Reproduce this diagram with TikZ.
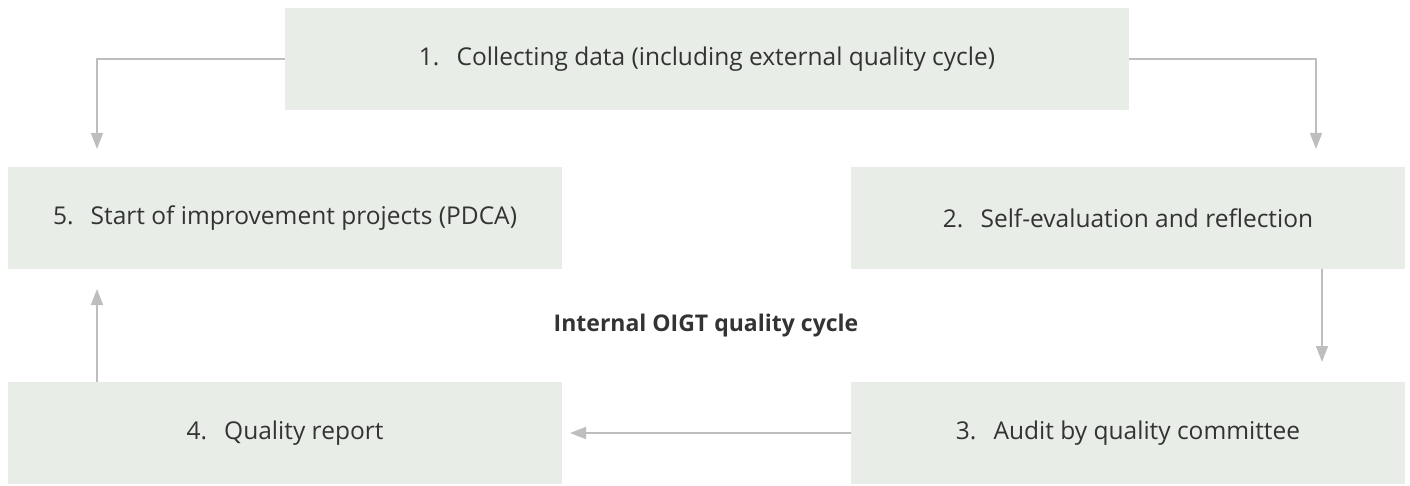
\documentclass[tikz,border=0pt]{standalone}
\usepackage{fontspec}
\setmainfont{Open Sans}
\usetikzlibrary{arrows.meta}
\definecolor{boxfill}{HTML}{E8EDE8}
\definecolor{linegray}{HTML}{BEBEBE}
\definecolor{txt}{HTML}{333333}
\tikzset{
  stepbox/.style={fill=boxfill, draw=none, minimum height=102pt, inner sep=0pt,
    text=txt, font=\fontsize{24.5}{29}\selectfont},
  conn/.style={draw=linegray, line width=1.5pt, -{Triangle[width=12pt,length=16pt]}},
}
\newcommand{\numsp}{\hspace{0.7em}}
\begin{document}
\begin{tikzpicture}[x=1pt,y=-1pt]
\useasboundingbox (0,0) rectangle (1410,486);
\node[stepbox, minimum width=844pt] (b1) at (707,59) {1.\numsp Collecting data (including external quality cycle)};
\node[stepbox, minimum width=554pt] (b5) at (285,218) {5.\numsp Start of improvement projects (PDCA)};
\node[stepbox, minimum width=554pt] (b2) at (1128,218) {2.\numsp Self-evaluation and reflection};
\node[stepbox, minimum width=554pt] (b3) at (1128,433) {3.\numsp Audit by quality committee};
\node[stepbox, minimum width=554pt] (b4) at (285,433) {4.\numsp Quality report};
\node[text=txt, font=\fontsize{23}{27}\selectfont\bfseries] (lbl) at (706,326) {Internal OIGT quality cycle};
\coordinate (t1) at (97,149);
\coordinate (t2) at (1316,149);
\coordinate (t3) at (1322,362);
\coordinate (t4) at (570,433);
\coordinate (t5) at (97,289);
\draw[conn] (b1.west) -| (t1);
\draw[conn] (b1.east) -| (t2);
\draw[conn] (b2.south -| t3) -- (t3);
\draw[conn] (b3.west) -- (t4);
\draw[conn] (b4.north -| t5) -- (t5);
\end{tikzpicture}
\end{document}
